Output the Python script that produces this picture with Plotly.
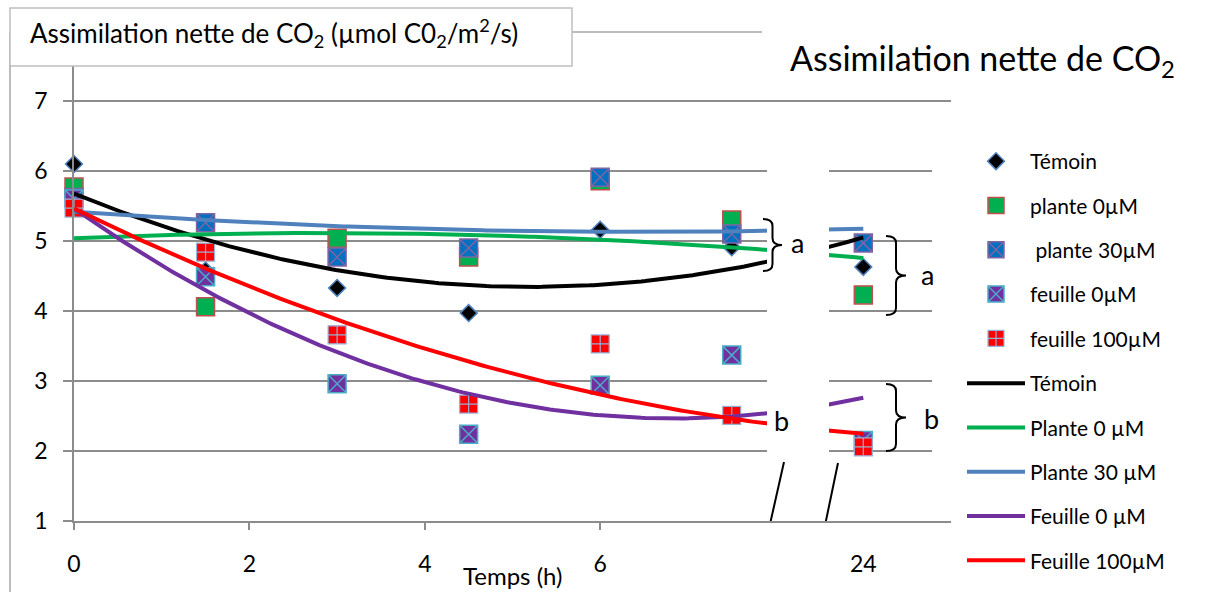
import numpy as np
import plotly.graph_objects as go

# ---------------- data ----------------
time_h = [0, 1.5, 3, 4.5, 6, 7.5, 24]          # sampling times (h)
temoin = [6.10, 4.58, 4.33, 3.97, 5.16, 4.91, 4.63]
plante_0 = [5.77, 4.06, 5.04, 4.77, 5.86, 5.30, 4.23]
plante_30 = [5.62, 5.26, 4.77, 4.90, 5.91, 5.10, 4.97]
feuille_0 = [5.60, 4.49, 2.96, 2.24, 2.94, 3.37, 2.15]
feuille_100 = [5.47, 4.84, 3.66, 2.67, 3.53, 2.51, 2.06]

x_tick_vals = [0, 2, 4, 6]
x_tick_labels = ["0", "2", "4", "6", "24"]
y_tick_vals = [1, 2, 3, 4, 5, 6, 7]

# broken axis: the 24 h point is drawn at position 9 of the axis
POS_24 = 9
x_pos = [t if t <= 7.5 else POS_24 for t in time_h]

FONT = "Lato"
GRID = "#8C8C8C"

scatter_series = [
    ("Témoin", temoin, dict(symbol="diamond", size=13, color="#000000",
                            line=dict(color="#4F81BD", width=1.5))),
    ("plante 0µM", plante_0, dict(symbol="square", size=18, color="#00B050",
                                  line=dict(color="#C0504D", width=1.5))),
    (" plante 30µM", plante_30, dict(symbol="square-x", size=18, color="#0070C0",
                                     line=dict(color="#8064A2", width=1.5))),
    ("feuille 0µM", feuille_0, dict(symbol="square-x", size=18, color="#7030A0",
                                    line=dict(color="#4BACC6", width=1.5))),
    ("feuille 100µM", feuille_100, dict(symbol="square-cross", size=18, color="#FF0000",
                                        line=dict(color="#95B3D7", width=1.2))),
]

trend_series = [
    ("Témoin", temoin, "#000000"),
    ("Plante 0 µM", plante_0, "#00B050"),
    ("Plante 30 µM", plante_30, "#4F81BD"),
    ("Feuille 0 µM", feuille_0, "#7030A0"),
    ("Feuille 100µM", feuille_100, "#FF0000"),
]

fig = go.Figure()

for i, (name, vals, mk) in enumerate(scatter_series):
    fig.add_trace(go.Scatter(
        x=x_pos, y=vals, mode="markers", name=name, marker=mk,
        cliponaxis=False, legendgroup=f"m{i}", legend="legend"))

# polynomial (order 2) trendlines, as in the original spreadsheet chart
xs = np.linspace(0, POS_24, 200)
for i, (name, vals, col) in enumerate(trend_series):
    coef = np.polyfit(x_pos, vals, 2)
    fig.add_trace(go.Scatter(
        x=xs, y=np.polyval(coef, xs), mode="lines", name=name,
        line=dict(color=col, width=4), legendgroup=f"l{i}", legend="legend2"))


def px2x(px):
    return (px - 74) / 87.7


def px2y(py):
    return 1 + (521 - py) / 70.0


def brace_path(xl, xt, yt, yb, r=7):
    xm = (xl + xt) / 2
    ym = (yt + yb) / 2
    P = lambda a, b: f"{px2x(a):.4f},{px2y(b):.4f}"
    return (f"M {P(xl, yt)} Q {P(xm, yt)} {P(xm, yt + r)} L {P(xm, ym - r)} "
            f"Q {P(xm, ym)} {P(xt, ym)} Q {P(xm, ym)} {P(xm, ym + r)} "
            f"L {P(xm, yb - r)} Q {P(xm, yb)} {P(xl, yb)}")


shapes = [
    # white gap of the broken axis
    dict(type="rect", xref="x", yref="y", x0=px2x(767), x1=px2x(829),
         y0=px2y(533), y1=px2y(110), fillcolor="white", line=dict(width=0),
         layer="above"),
    # white area behind the legend
    dict(type="rect", xref="x", yref="y", x0=px2x(932), x1=px2x(960),
         y0=px2y(533), y1=px2y(110), fillcolor="white", line=dict(width=0),
         layer="above"),
    # break marks
    dict(type="line", xref="x", yref="y", x0=px2x(784), y0=px2y(462),
         x1=px2x(768), y1=px2y(533), line=dict(color="black", width=2),
         layer="above"),
    dict(type="line", xref="x", yref="y", x0=px2x(838), y0=px2y(463),
         x1=px2x(823), y1=px2y(535), line=dict(color="black", width=2),
         layer="above"),
    # braces
    dict(type="path", xref="x", yref="y", path=brace_path(763, 782, 219, 271),
         line=dict(color="black", width=2), layer="above"),
    dict(type="path", xref="x", yref="y", path=brace_path(886, 906, 236, 315),
         line=dict(color="black", width=2), layer="above"),
    dict(type="path", xref="x", yref="y", path=brace_path(886, 906, 384, 451),
         line=dict(color="black", width=2), layer="above"),
    # chart border (partially visible)
    dict(type="line", xref="paper", yref="paper", x0=(10 - 74) / 877, x1=(10 - 74) / 877,
         y0=(521 - 32) / 455, y1=(521 - 600) / 455, line=dict(color="#A6A6A6", width=1.5)),
    dict(type="line", xref="paper", yref="paper", x0=(10 - 74) / 877, x1=(762 - 74) / 877,
         y0=(521 - 32) / 455, y1=(521 - 32) / 455, line=dict(color="#A6A6A6", width=1.5)),
    # axis title box
    dict(type="rect", xref="paper", yref="paper", x0=(10 - 74) / 877, x1=(572 - 74) / 877,
         y0=(521 - 66) / 455, y1=(521 - 8) / 455, fillcolor="white",
         line=dict(color="#BFBFBF", width=1.5), layer="above"),
]

annotations = [
    dict(text="Assimilation nette de CO<sub>2</sub> (µmol C0<sub>2</sub>/m<sup>2</sup>/s)",
         xref="paper", yref="paper", x=(28 - 74) / 877, y=(521 - 33) / 455,
         xanchor="left", yanchor="middle", showarrow=False,
         font=dict(family=FONT, size=26, color="black")),
    dict(text="Assimilation nette de CO<sub>2</sub>",
         xref="paper", yref="paper", x=(788 - 74) / 877, y=(521 - 60) / 455,
         xanchor="left", yanchor="middle", showarrow=False,
         font=dict(family=FONT, size=34, color="black")),
    dict(text="Temps (h)", xref="paper", yref="paper", x=(512 - 74) / 877,
         y=(521 - 575) / 455, xanchor="center", yanchor="middle", showarrow=False,
         font=dict(family=FONT, size=24, color="black")),
    dict(text="a", xref="x", yref="y", x=px2x(797), y=px2y(242), showarrow=False,
         font=dict(family=FONT, size=27, color="black")),
    dict(text="a", xref="x", yref="y", x=px2x(927), y=px2y(274), showarrow=False,
         font=dict(family=FONT, size=27, color="black")),
    dict(text="b", xref="x", yref="y", x=px2x(931), y=px2y(418), showarrow=False,
         font=dict(family=FONT, size=27, color="black")),
    dict(text="b", xref="x", yref="y", x=px2x(781), y=px2y(420), showarrow=False,
         font=dict(family=FONT, size=27, color="black")),
]

legend_common = dict(xanchor="left", yanchor="top",
                     font=dict(family=FONT, size=21, color="black"),
                     tracegroupgap=14, itemwidth=58, bgcolor="rgba(0,0,0,0)")

fig.update_layout(
    width=1215, height=592,
    margin=dict(l=74, r=264, t=66, b=71, autoexpand=False),
    paper_bgcolor="white", plot_bgcolor="white",
    font=dict(family=FONT, size=23, color="black"),
    shapes=shapes, annotations=annotations,
    showlegend=True,
    legend=dict(x=(962 - 74) / 877, y=(521 - 141) / 455, **legend_common),
    legend2=dict(x=(962 - 74) / 877, y=(521 - 363) / 455, **legend_common),
    xaxis=dict(range=[0, 10], showgrid=False, zeroline=False,
               showline=True, linecolor=GRID, linewidth=1.5,
               tickmode="array", tickvals=x_tick_vals + [POS_24], ticktext=x_tick_labels,
               ticks="", ticklabelstandoff=22,
               minor=dict(tickmode="array", tickvals=x_tick_vals, ticks="outside",
                          ticklen=7, tickcolor=GRID, tickwidth=1.5),
               tickfont=dict(family=FONT, size=23)),
    yaxis=dict(range=[1, 7.5], tickmode="array", tickvals=y_tick_vals,
               showgrid=True, gridcolor=GRID, gridwidth=1.5, zeroline=False,
               showline=True, linecolor=GRID, linewidth=1.5,
               ticks="outside", ticklen=9, tickcolor=GRID, tickwidth=1.5,
               ticklabelstandoff=11, tickfont=dict(family=FONT, size=23)),
)

fig.write_html("out.html", config={"displayModeBar": False},
               post_script="document.body.style.margin='0px';document.body.style.overflow='hidden';")
